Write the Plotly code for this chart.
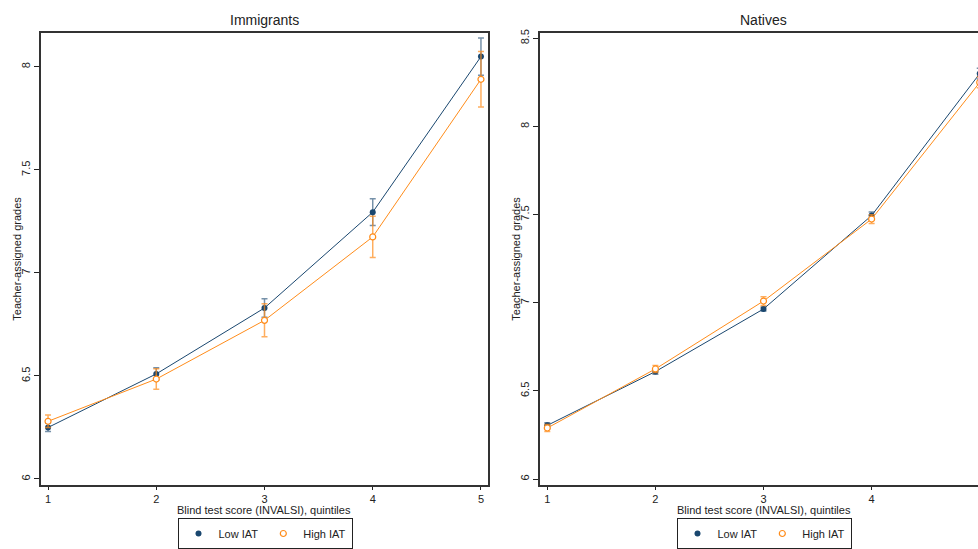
import plotly.graph_objects as go

quintiles = [1, 2, 3, 4, 5]

imm_low = [6.25, 6.51, 6.83, 7.295, 8.05]
imm_low_err = [0.02, 0.03, 0.045, 0.065, 0.09]
imm_high = [6.28, 6.485, 6.77, 7.175, 7.94]
imm_high_err = [0.03, 0.05, 0.08, 0.10, 0.135]

nat_low = [6.305, 6.61, 6.965, 7.495, 8.30]
nat_low_err = [0.015, 0.015, 0.012, 0.02, 0.03]
nat_high = [6.29, 6.625, 7.01, 7.475, 8.25]
nat_high_err = [0.02, 0.02, 0.025, 0.025, 0.03]

y_ticks_left = [6, 6.5, 7, 7.5, 8]
y_ticks_right = [6, 6.5, 7, 7.5, 8, 8.5]

NAVY = "#1a476f"
ORANGE = "#ff8c1a"
NAVY_ERR = "rgba(26,71,111,0.6)"
ORANGE_ERR = "rgba(255,140,26,0.7)"

W, H = 978, 549
FONT = "Liberation Sans, Arial, sans-serif"

fig = go.Figure()

LOW_MARKER = dict(color=NAVY, size=6, symbol="circle")
HIGH_MARKER = dict(color="white", size=6, symbol="circle", line=dict(color=ORANGE, width=1.2))

def add_pair(low, low_err, high, high_err, xa, ya, leg):
    fig.add_trace(go.Scatter(
        x=quintiles, y=low, mode="lines+markers", name="Low IAT",
        xaxis=xa, yaxis=ya, showlegend=False,
        line=dict(color=NAVY, width=1), marker=LOW_MARKER,
        error_y=dict(type="data", array=low_err, visible=True,
                     color=NAVY_ERR, thickness=1.5, width=3),
    ))
    fig.add_trace(go.Scatter(
        x=quintiles, y=high, mode="lines+markers", name="High IAT",
        xaxis=xa, yaxis=ya, showlegend=False,
        line=dict(color=ORANGE, width=1), marker=HIGH_MARKER,
        error_y=dict(type="data", array=high_err, visible=True,
                     color=ORANGE_ERR, thickness=1.5, width=3),
    ))
    # legend-only marker entries (the reference legend shows markers only)
    fig.add_trace(go.Scatter(x=[None], y=[None], mode="markers", name="Low IAT",
                             xaxis=xa, yaxis=ya, legend=leg, marker=LOW_MARKER))
    fig.add_trace(go.Scatter(x=[None], y=[None], mode="markers", name="High IAT",
                             xaxis=xa, yaxis=ya, legend=leg, marker=HIGH_MARKER))

add_pair(imm_low, imm_low_err, imm_high, imm_high_err, "x", "y", "legend")
add_pair(nat_low, nat_low_err, nat_high, nat_high_err, "x2", "y2", "legend2")

top = 1 - 30 / H
bot = 1 - 490 / H

tickfont = dict(family=FONT, size=11, color="#222")
common_x = dict(tickmode="array", tickvals=quintiles,
                ticktext=[str(q) for q in quintiles],
                ticks="outside", ticklen=3, tickcolor="#222",
                showgrid=False, zeroline=False, showline=True,
                linecolor="#333", linewidth=1.5, tickfont=tickfont)
common_y = dict(ticks="outside", ticklen=5, tickcolor="#222",
                showgrid=False, zeroline=False, showline=True,
                linecolor="#333", linewidth=1.5, tickfont=tickfont,
                tickangle=-90)

legend_common = dict(orientation="h", xanchor="center",
                     y=1 - 524 / H, yanchor="top",
                     bordercolor="#222", borderwidth=1,
                     font=dict(family=FONT, size=11, color="#222"),
                     itemwidth=30, tracegroupgap=0)

def ann(text, x, y, size=11, angle=0):
    return dict(text=text, x=x / W, y=1 - y / H, xref="paper", yref="paper",
                xanchor="center", yanchor="middle", showarrow=False,
                textangle=angle, font=dict(family=FONT, size=size, color="#222"))

fig.update_layout(
    width=W, height=H,
    margin=dict(l=0, r=0, t=0, b=0),
    paper_bgcolor="white", plot_bgcolor="white",
    font=dict(family=FONT, color="#222"),
    xaxis=dict(domain=[41 / W, 488 / W], range=[0.935, 5.065],
               mirror=True, anchor="y", **common_x),
    yaxis=dict(domain=[bot, top], range=[5.971, 8.167], mirror=True,
               tickvals=y_ticks_left, ticktext=[str(v) for v in y_ticks_left],
               anchor="x", **common_y),
    xaxis2=dict(domain=[540 / W, 1.0], range=[0.9325, 4.984],
                mirror=True, anchor="y2", **common_x),
    yaxis2=dict(domain=[bot, top], range=[5.967, 8.533], mirror=False,
                tickvals=y_ticks_right, ticktext=[str(v) for v in y_ticks_right],
                anchor="x2", **common_y),
    legend=dict(x=265 / W, **legend_common),
    legend2=dict(x=764 / W, **legend_common),
    annotations=[
        ann("Immigrants", 264, 17, size=14),
        ann("Natives", 763, 17, size=14),
        ann("Blind test score (INVALSI), quintiles", 264, 515),
        ann("Blind test score (INVALSI), quintiles", 764, 515),
        ann("Teacher-assigned grades", 17, 260, angle=-90),
        ann("Teacher-assigned grades", 516, 260, angle=-90),
    ],
)

fig.write_html("out.html")
